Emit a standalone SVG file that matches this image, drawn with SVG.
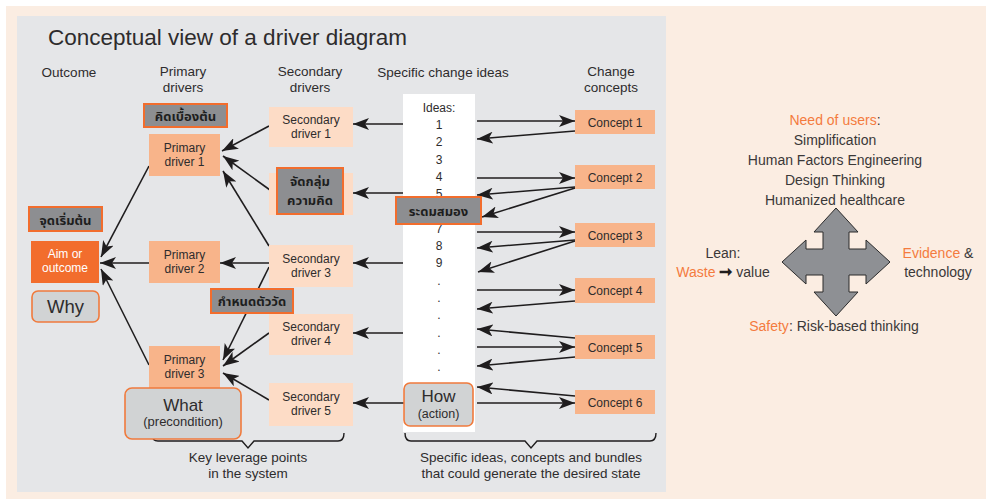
<svg xmlns="http://www.w3.org/2000/svg" width="987" height="500" viewBox="0 0 987 500">
  <defs>
    <marker id="ah" viewBox="0 0 16 12" refX="16" refY="6" markerWidth="16" markerHeight="12" markerUnits="userSpaceOnUse" orient="auto">
      <path d="M0,0 L16,6 L0,12 L4,6 z" fill="#1f1d1e"/>
    </marker>
    <style>
      text { font-family: "Liberation Sans", Arial, "Noto Sans Thai", sans-serif; fill: #2e2c2d; }
      .hd { font-size: 13.5px; text-anchor: middle; }
      .bx { font-size: 12px; text-anchor: middle; }
      .th { font-size: 13px; text-anchor: middle; font-weight: bold; fill: #1e1e1e; font-family: "Noto Sans Thai", "Loma", "Garuda", "Liberation Sans", sans-serif; }
      .num { font-size: 12px; text-anchor: middle; }
      .rp { font-size: 14px; text-anchor: middle; fill: #3a3838; }
      .or { fill: #f47b3e; }
      .pri { fill: #f8b48a; }
      .sec { fill: #fddcc6; }
      .tag { fill: #8d8e91; stroke: #f26d2d; stroke-width: 2; }
      .key { fill: #d1d3d4; stroke: #f07a3c; stroke-width: 1.6; }
      .edge { stroke: #1f1d1e; stroke-width: 1.6; fill: none; marker-end: url(#ah); }
      .brace { stroke: #1f1d1e; stroke-width: 1.4; fill: none; }
    </style>
  </defs>

  <!-- backgrounds -->
  <rect x="6" y="6" width="980" height="493" fill="#fbede2"/>
  <rect x="17" y="16" width="649" height="476" fill="#e5e6e8"/>

  <!-- title and column headings -->
  <text x="48" y="45" font-size="22.5">Conceptual view of a driver diagram</text>
  <text class="hd" x="69" y="77">Outcome</text>
  <text class="hd" x="183" y="76">Primary</text>
  <text class="hd" x="183" y="92">drivers</text>
  <text class="hd" x="310" y="76">Secondary</text>
  <text class="hd" x="310" y="92">drivers</text>
  <text class="hd" x="443" y="77">Specific change ideas</text>
  <text class="hd" x="611" y="76">Change</text>
  <text class="hd" x="611" y="92">concepts</text>

  <!-- ideas column -->
  <g id="ideas">
    <rect x="403" y="94" width="72" height="338" fill="#ffffff"/>
    <text class="num" x="439" y="112">Ideas:</text>
    <text class="num" x="439" y="129">1</text>
    <text class="num" x="439" y="146.3">2</text>
    <text class="num" x="439" y="163.6">3</text>
    <text class="num" x="439" y="180.9">4</text>
    <text class="num" x="439" y="198.2">5</text>
    <text class="num" x="439" y="232.8">7</text>
    <text class="num" x="439" y="250.1">8</text>
    <text class="num" x="439" y="267.4">9</text>
    <text class="num" x="439" y="284.7">.</text>
    <text class="num" x="439" y="302">.</text>
    <text class="num" x="439" y="319.3">.</text>
    <text class="num" x="439" y="336.6">.</text>
    <text class="num" x="439" y="353.9">.</text>
    <text class="num" x="439" y="371.2">.</text>
  </g>

  <!-- connectors -->
  <g id="connectors">
    <!-- primary drivers to outcome -->
    <line class="edge" x1="149" y1="166" x2="101" y2="257"/>
    <line class="edge" x1="149" y1="263" x2="100" y2="263"/>
    <line class="edge" x1="149" y1="365" x2="101" y2="269"/>
    <!-- secondary drivers to primary drivers -->
    <line class="edge" x1="269" y1="126" x2="222" y2="151"/>
    <line class="edge" x1="270" y1="190" x2="223" y2="156"/>
    <line class="edge" x1="269" y1="246" x2="223" y2="171"/>
    <line class="edge" x1="269" y1="263" x2="220" y2="263"/>
    <line class="edge" x1="269" y1="267" x2="223" y2="360"/>
    <line class="edge" x1="269" y1="333" x2="223" y2="366"/>
    <line class="edge" x1="269" y1="400" x2="223" y2="373"/>
    <!-- ideas to secondary drivers -->
    <line class="edge" x1="403" y1="124" x2="353" y2="124"/>
    <line class="edge" x1="403" y1="193" x2="353" y2="193"/>
    <line class="edge" x1="403" y1="263" x2="353" y2="263"/>
    <line class="edge" x1="403" y1="333" x2="353" y2="333"/>
    <line class="edge" x1="404" y1="403" x2="353" y2="403"/>
    <!-- ideas and change concepts -->
    <line class="edge" x1="477" y1="121" x2="575" y2="121"/>
    <line class="edge" x1="575" y1="131" x2="477" y2="139"/>
    <line class="edge" x1="477" y1="178" x2="575" y2="178"/>
    <line class="edge" x1="575" y1="187" x2="477" y2="195"/>
    <line class="edge" x1="575" y1="188" x2="482" y2="217"/>
    <line class="edge" x1="477" y1="232" x2="575" y2="232"/>
    <line class="edge" x1="575" y1="240" x2="477" y2="248"/>
    <line class="edge" x1="575" y1="241" x2="478" y2="272"/>
    <line class="edge" x1="477" y1="290" x2="575" y2="290"/>
    <line class="edge" x1="575" y1="301" x2="477" y2="309"/>
    <line class="edge" x1="575" y1="338" x2="477" y2="329"/>
    <line class="edge" x1="477" y1="347" x2="575" y2="347"/>
    <line class="edge" x1="575" y1="357" x2="477" y2="366"/>
    <line class="edge" x1="575" y1="396" x2="477" y2="387"/>
    <line class="edge" x1="477" y1="403" x2="575" y2="403"/>
    <!-- braces -->
    <path class="brace" d="M152,434 Q152,441 158,441 L242,441 L248,448 L254,441 L338,441 Q344,441 344,433"/>
    <path class="brace" d="M405,433 Q405,441 411,441 L525,441 L531,448 L537,441 L650,441 Q656,441 656,433"/>
  </g>

  <!-- outcome -->
  <g id="aim">
    <rect x="31" y="241" width="68" height="42" fill="#f26d2d"/>
    <text class="bx" x="65" y="258" style="fill:#ffffff">Aim or</text>
    <text class="bx" x="65" y="272" style="fill:#ffffff">outcome</text>
  </g>
  <g id="why">
    <rect class="key" x="32" y="291" width="67" height="31" rx="6"/>
    <text x="65.5" y="313" font-size="18.5" text-anchor="middle">Why</text>
  </g>
  <g id="tag-start">
    <rect class="tag" x="29" y="207" width="73" height="24"/>
    <text class="th" x="65.5" y="225">จุดเริ่มต้น</text>
  </g>

  <!-- primary drivers -->
  <g id="pd1">
    <rect class="pri" x="149" y="134" width="71" height="42"/>
    <text class="bx" x="184.5" y="152">Primary</text>
    <text class="bx" x="184.5" y="166">driver 1</text>
  </g>
  <g id="pd2">
    <rect class="pri" x="149" y="241" width="71" height="42"/>
    <text class="bx" x="184.5" y="259">Primary</text>
    <text class="bx" x="184.5" y="273">driver 2</text>
  </g>
  <g id="pd3">
    <rect class="pri" x="149" y="346" width="71" height="42"/>
    <text class="bx" x="184.5" y="364">Primary</text>
    <text class="bx" x="184.5" y="378">driver 3</text>
  </g>
  <g id="tag-think">
    <rect class="tag" x="144" y="104" width="83" height="23"/>
    <text class="th" x="185.5" y="121">คิดเบื้องต้น</text>
  </g>
  <g id="what">
    <rect class="key" x="125" y="388" width="116" height="51" rx="7"/>
    <text x="183" y="411" font-size="17" text-anchor="middle">What</text>
    <text x="183" y="426" font-size="13" text-anchor="middle">(precondition)</text>
  </g>

  <!-- secondary drivers -->
  <g id="sd1">
    <rect class="sec" x="269" y="107" width="84" height="40"/>
    <text class="bx" x="311" y="123.5">Secondary</text>
    <text class="bx" x="311" y="137.5">driver 1</text>
  </g>
  <g id="sd2">
    <rect class="sec" x="269" y="173" width="84" height="42"/>
    <rect class="tag" x="277" y="168" width="66" height="46"/>
    <text class="th" x="310" y="186">จัดกลุ่ม</text>
    <text class="th" x="310" y="205">ความคิด</text>
  </g>
  <g id="sd3">
    <rect class="sec" x="269" y="245" width="84" height="42"/>
    <text class="bx" x="311" y="262.5">Secondary</text>
    <text class="bx" x="311" y="276.5">driver 3</text>
  </g>
  <g id="sd4">
    <rect class="sec" x="269" y="314" width="84" height="41"/>
    <text class="bx" x="311" y="331">Secondary</text>
    <text class="bx" x="311" y="345">driver 4</text>
  </g>
  <g id="sd5">
    <rect class="sec" x="269" y="383" width="84" height="43"/>
    <text class="bx" x="311" y="401">Secondary</text>
    <text class="bx" x="311" y="415">driver 5</text>
  </g>
  <g id="tag-measure">
    <rect class="tag" x="211" y="289" width="82" height="24"/>
    <text class="th" x="252" y="306">กำหนดตัววัด</text>
  </g>

  <!-- idea tags -->
  <g id="tag-brainstorm">
    <rect class="tag" x="396" y="197" width="85" height="27"/>
    <text class="th" x="438.5" y="216">ระดมสมอง</text>
  </g>
  <g id="how">
    <rect class="key" x="404" y="383" width="69" height="43" rx="6"/>
    <text x="438.5" y="402" font-size="17" text-anchor="middle">How</text>
    <text x="438.5" y="418" font-size="12.5" text-anchor="middle">(action)</text>
  </g>

  <!-- change concepts -->
  <g id="c1"><rect class="pri" x="575" y="110" width="80" height="24"/><text class="bx" x="615" y="126.5">Concept 1</text></g>
  <g id="c2"><rect class="pri" x="575" y="165" width="80" height="24"/><text class="bx" x="615" y="181.5">Concept 2</text></g>
  <g id="c3"><rect class="pri" x="575" y="223" width="80" height="24"/><text class="bx" x="615" y="239.5">Concept 3</text></g>
  <g id="c4"><rect class="pri" x="575" y="278" width="80" height="25"/><text class="bx" x="615" y="295">Concept 4</text></g>
  <g id="c5"><rect class="pri" x="575" y="335" width="80" height="24"/><text class="bx" x="615" y="351.5">Concept 5</text></g>
  <g id="c6"><rect class="pri" x="575" y="390" width="80" height="24"/><text class="bx" x="615" y="406.5">Concept 6</text></g>

  <!-- bottom captions -->
  <text class="hd" x="248" y="462">Key leverage points</text>
  <text class="hd" x="248" y="478">in the system</text>
  <text class="hd" x="531" y="462">Specific ideas, concepts and bundles</text>
  <text class="hd" x="531" y="478">that could generate the desired state</text>

  <!-- improvement compass -->
  <g id="compass">
    <text class="rp" x="835" y="125"><tspan class="or">Need of users</tspan>:</text>
    <text class="rp" x="835" y="145">Simplification</text>
    <text class="rp" x="835" y="165">Human Factors Engineering</text>
    <text class="rp" x="835" y="185">Design Thinking</text>
    <text class="rp" x="835" y="205">Humanized healthcare</text>
    <path d="M836,208 L858,232 L849,232 L849,249 L866,249 L866,240 L890,262 L866,284 L866,275 L849,275 L849,292 L858,292 L836,316 L814,292 L823,292 L823,275 L806,275 L806,284 L782,262 L806,240 L806,249 L823,249 L823,232 L814,232 Z" fill="#8e9094" stroke="#2b2b2b" stroke-width="1" stroke-linejoin="miter"/>
    <text class="rp" x="723" y="258">Lean:</text>
    <text class="rp" x="723" y="277"><tspan class="or">Waste</tspan> <tspan font-size="16" font-weight="bold" style="fill:#1f1d1e">➞</tspan> value</text>
    <text class="rp" x="938" y="258"><tspan class="or">Evidence</tspan> &amp;</text>
    <text class="rp" x="938" y="277">technology</text>
    <text class="rp" x="834" y="331"><tspan class="or">Safety</tspan>: Risk-based thinking</text>
  </g>
</svg>
